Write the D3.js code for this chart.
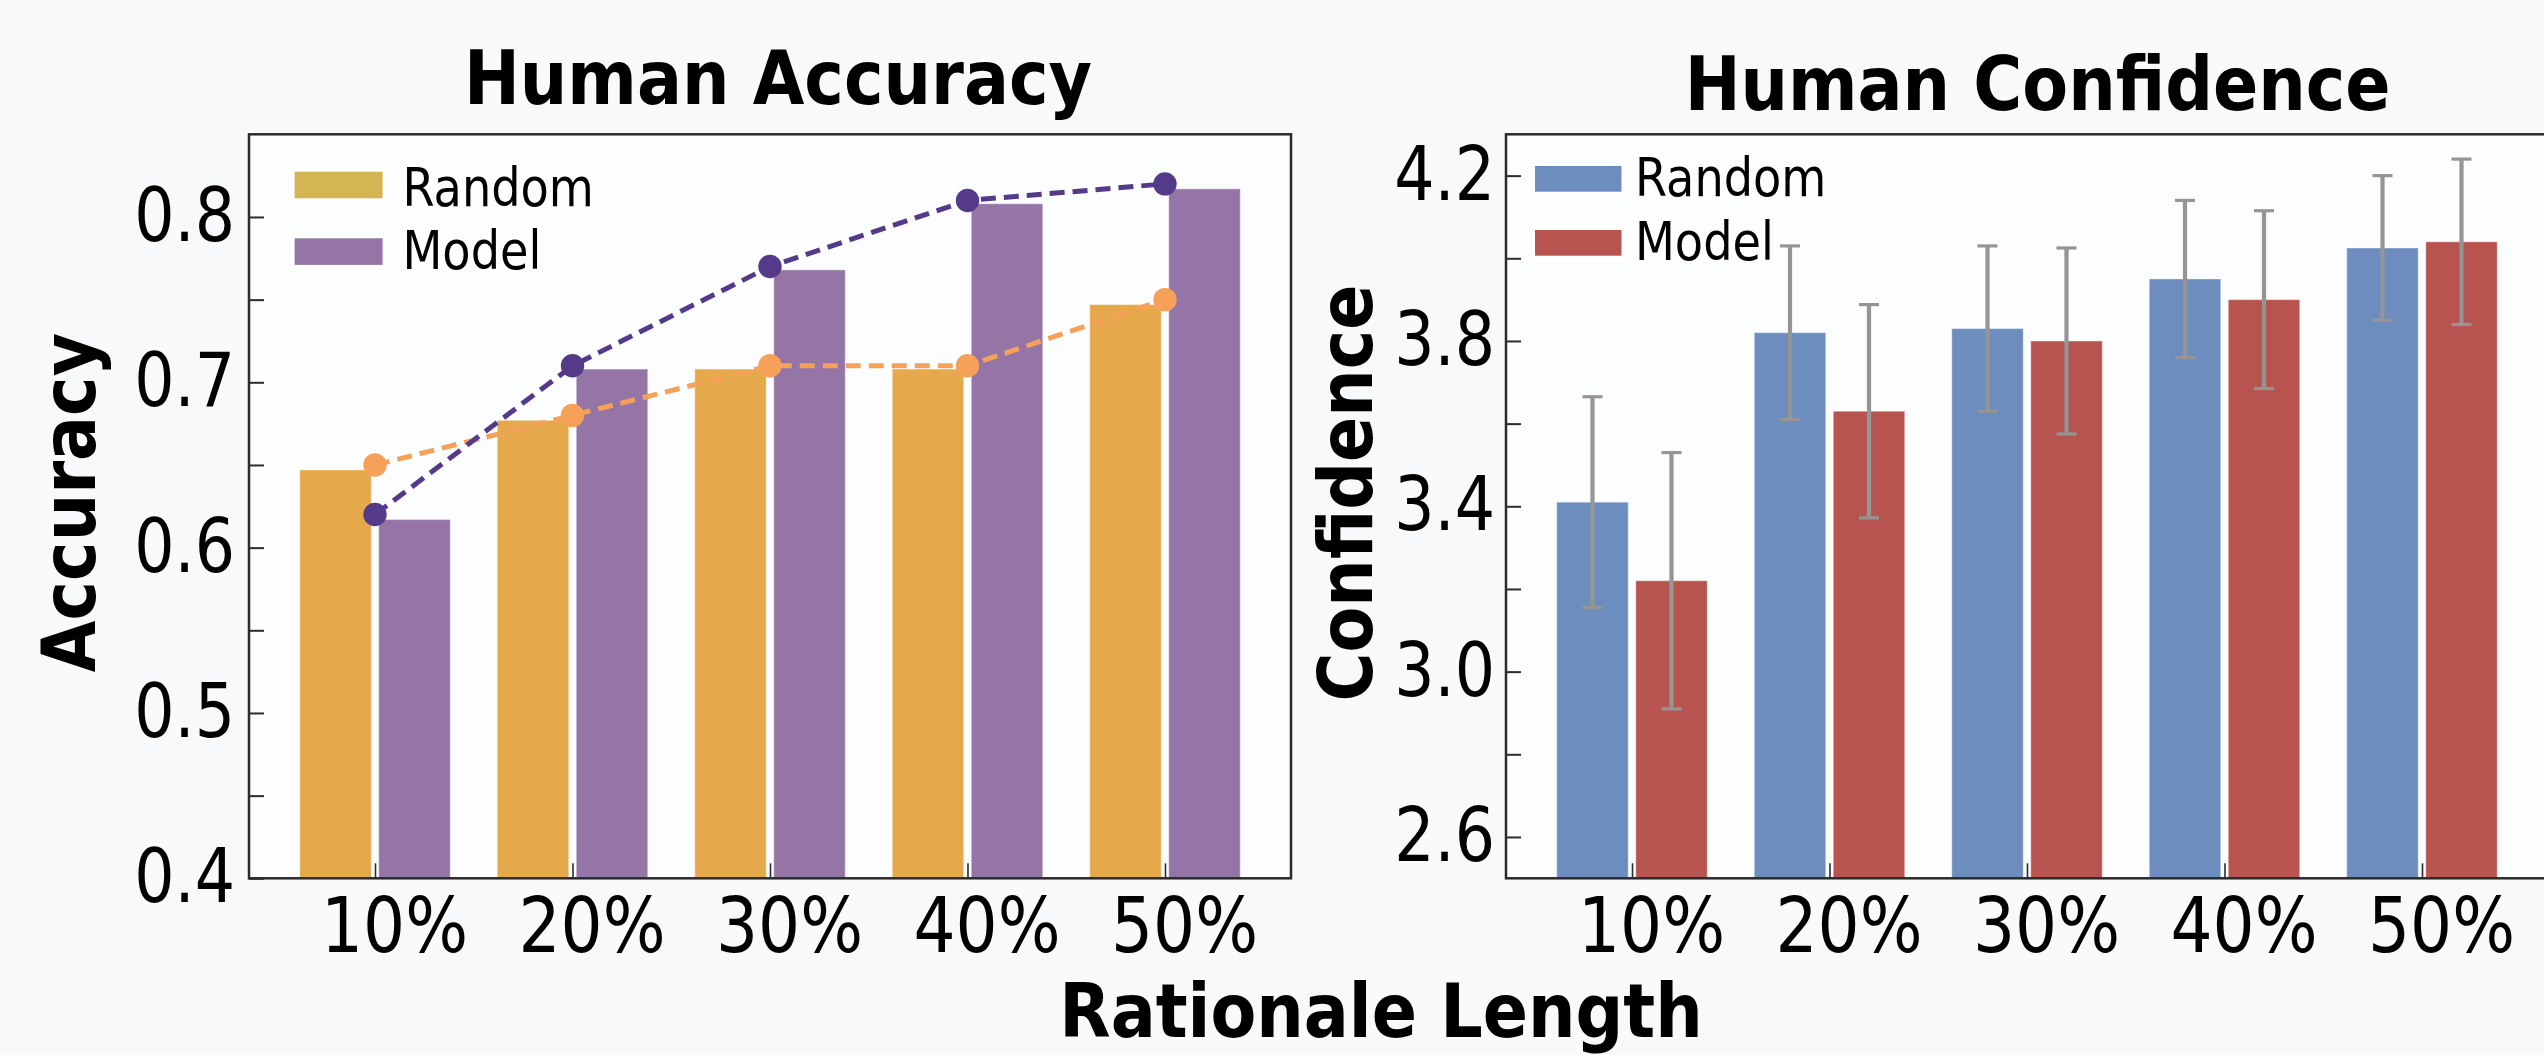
<!DOCTYPE html>
<html>
<head>
<meta charset="utf-8">
<script src="https://cdn.jsdelivr.net/npm/d3@7"></script>
<style>
  html, body { margin: 0; padding: 0; background: #F8F9FB; }
  svg { display: block; }
  text { font-family: "DejaVu Sans", sans-serif; fill: #000; }
</style>
</head>
<body>
<svg id="chart" width="2544" height="1055"></svg>
<script>
// ---------------- data ----------------
const categories = ["10%", "20%", "30%", "40%", "50%"];
const seriesNames = ["Random", "Model"];

// Human Accuracy (left): bars and dashed lines
const accRandomBars = [0.647, 0.677, 0.708, 0.708, 0.747];
const accModelBars  = [0.617, 0.708, 0.768, 0.808, 0.817];
const accRandomLine = [0.65, 0.68, 0.71, 0.71, 0.75];
const accModelLine  = [0.62, 0.71, 0.77, 0.81, 0.82];
const accMajorTicks = [0.4, 0.5, 0.6, 0.7, 0.8];
const accMinorTicks = [0.45, 0.55, 0.65, 0.75];

// Human Confidence (right): bars with error bars
const confRandom    = [3.41, 3.82, 3.83, 3.95, 4.025];
const confModel     = [3.22, 3.63, 3.80, 3.90, 4.04];
const confRandomErr = [0.255, 0.21, 0.20, 0.19, 0.175];
const confModelErr  = [0.31, 0.258, 0.225, 0.215, 0.20];
const confMajorTicks = [2.6, 3.0, 3.4, 3.8, 4.2];
const confMinorTicks = [2.8, 3.2, 3.6, 4.0];

// ---------------- styles ----------------
const accColors = { bar: ["#E5A84B", "#9575A6"], legend: ["#D4B554", "#9575A6"], line: ["#F5A15A", "#553A8A"] };
const confColors = { bar: ["#6C8DBE", "#B85450"], legend: ["#6C8DBE", "#B85450"] };
const errColor = "#959595";
const axisColor = "#2b2b2b";

const svg = d3.select("#chart");
svg.append("rect").attr("width", 2544).attr("height", 1055).attr("fill", "#F8F9FB");

const frameTop = 134.3, frameBottom = 878.3, frameW = 1042;
const tickFont = 75.5, tickSX = 0.84, xTickSX = 0.87;
const boldFont = 75, boldSX = 0.89;
const legFont = 54, legSX = 0.856;
const barW = 71.5, barGap = 7.5;

function makePanel(opts) {
  const g = svg.append("g");
  const x0 = opts.frameX;
  const x = d3.scalePoint().domain(categories).range([x0, x0 + frameW]).padding(0.638);
  const y = d3.scaleLinear().domain(opts.domain).range([frameBottom, frameTop]);

  // plot area
  g.append("rect").attr("x", x0).attr("y", frameTop).attr("width", frameW)
    .attr("height", frameBottom - frameTop).attr("fill", "#FCFDFE");

  // bars
  const seriesVals = opts.bars;
  seriesVals.forEach((vals, si) => {
    g.append("g").selectAll("rect").data(vals).join("rect")
      .attr("x", (d, i) => si === 0 ? x(categories[i]) - barGap / 2 - barW : x(categories[i]) + barGap / 2)
      .attr("y", d => y(d))
      .attr("width", barW)
      .attr("height", d => frameBottom - y(d))
      .attr("fill", opts.colors.bar[si])
      .attr("stroke", "#ffffff").attr("stroke-opacity", 0.35).attr("stroke-width", 1.2);
  });

  // error bars
  if (opts.errors) {
    opts.errors.forEach((errs, si) => {
      const vals = seriesVals[si];
      const cx = i => si === 0 ? x(categories[i]) - barGap / 2 - barW / 2 : x(categories[i]) + barGap / 2 + barW / 2;
      const eg = g.append("g").attr("stroke", errColor);
      eg.selectAll("line.v").data(errs).join("line").attr("class", "v")
        .attr("x1", (d, i) => cx(i)).attr("x2", (d, i) => cx(i))
        .attr("y1", (d, i) => y(vals[i] + d)).attr("y2", (d, i) => y(vals[i] - d))
        .attr("stroke-width", 4.2);
      [1, -1].forEach(sgn => {
        eg.selectAll("line.c" + (sgn > 0 ? "t" : "b")).data(errs).join("line").attr("class", "c" + (sgn > 0 ? "t" : "b"))
          .attr("x1", (d, i) => cx(i) - 10).attr("x2", (d, i) => cx(i) + 10)
          .attr("y1", (d, i) => y(vals[i] + sgn * d)).attr("y2", (d, i) => y(vals[i] + sgn * d))
          .attr("stroke-width", 3.2);
      });
    });
  }

  // dashed lines with markers
  if (opts.lines) {
    opts.lines.forEach((vals, si) => {
      const line = d3.line().x((d, i) => x(categories[i])).y(d => y(d));
      g.append("path").datum(vals).attr("d", line).attr("fill", "none")
        .attr("stroke", opts.colors.line[si]).attr("stroke-width", 5)
        .attr("stroke-dasharray", "15,8");
      g.append("g").selectAll("circle").data(vals).join("circle")
        .attr("cx", (d, i) => x(categories[i])).attr("cy", d => y(d)).attr("r", 11.7)
        .attr("fill", opts.colors.line[si]);
    });
  }

  // y axis: major ticks
  const yAxis = g.append("g").attr("transform", `translate(${x0},0)`)
    .call(d3.axisLeft(y).tickValues(opts.major).tickSize(-15).tickFormat(d3.format(".1f")));
  yAxis.select(".domain").remove();
  yAxis.selectAll(".tick line").attr("stroke", axisColor).attr("stroke-width", 2);
  yAxis.selectAll(".tick text")
    .attr("x", 0).attr("dy", null).attr("y", 0)
    .attr("transform", `translate(${opts.yLabelPad},23.5) scale(${tickSX},1)`)
    .style("font-size", tickFont + "px").style("font-family", "DejaVu Sans").attr("fill", "#000");
  // minor ticks
  const yMinor = g.append("g").attr("transform", `translate(${x0},0)`)
    .call(d3.axisLeft(y).tickValues(opts.minor).tickSize(-15).tickFormat(""));
  yMinor.select(".domain").remove();
  yMinor.selectAll(".tick line").attr("stroke", axisColor).attr("stroke-width", 2);

  // x axis
  const xAxis = g.append("g").attr("transform", `translate(0,${frameBottom})`)
    .call(d3.axisBottom(x).tickSize(-15));
  xAxis.select(".domain").remove();
  xAxis.selectAll(".tick line").attr("stroke", axisColor).attr("stroke-width", 1.6);
  xAxis.selectAll(".tick text")
    .attr("y", 0).attr("dy", null)
    .attr("transform", `translate(19,73.7) scale(${xTickSX},1)`)
    .style("font-size", (tickFont + 0.5) + "px").style("font-family", "DejaVu Sans").attr("fill", "#000");

  // frame
  g.append("rect").attr("x", x0).attr("y", frameTop).attr("width", frameW)
    .attr("height", frameBottom - frameTop).attr("fill", "none")
    .attr("stroke", axisColor).attr("stroke-width", 2.5);

  // title
  g.append("text").attr("transform", `translate(${opts.titleX},${opts.titleY}) scale(${boldSX},1)`)
    .attr("text-anchor", "middle").style("font-size", boldFont + "px").style("font-weight", "bold")
    .text(opts.title);

  // y label
  g.append("text").attr("transform", `translate(${opts.yTitleX},${opts.yTitleY}) rotate(-90) scale(${boldSX},1)`)
    .attr("text-anchor", "middle").style("font-size", boldFont + "px").style("font-weight", "bold")
    .text(opts.yTitle);

  // legend
  const lg = g.append("g");
  seriesNames.forEach((name, si) => {
    const ly = opts.legend.y[si];
    lg.append("rect").attr("x", opts.legend.x - 5).attr("y", ly - 5)
      .attr("width", opts.legend.w + 10).attr("height", opts.legend.h + 10).attr("fill", "#ffffff");
    lg.append("rect").attr("x", opts.legend.x).attr("y", ly)
      .attr("width", opts.legend.w).attr("height", opts.legend.h).attr("fill", opts.colors.legend[si]);
    lg.append("text").attr("transform", `translate(${opts.legend.tx},${opts.legend.ty[si]}) scale(${legSX},1)`)
      .style("font-size", legFont + "px").text(name);
  });
}

makePanel({
  frameX: 249,
  domain: [0.4, 0.85],
  major: accMajorTicks, minor: accMinorTicks,
  bars: [accRandomBars, accModelBars],
  lines: [accRandomLine, accModelLine],
  colors: accColors,
  yLabelPad: -14,
  title: "Human Accuracy", titleX: 778, titleY: 104,
  yTitle: "Accuracy", yTitleX: 95, yTitleY: 502.5,
  legend: { x: 294.6, w: 88, h: 26.6, y: [171.7, 238.3], tx: 402.5, ty: [206, 269.3] }
});

makePanel({
  frameX: 1506,
  domain: [2.5, 4.3],
  major: confMajorTicks, minor: confMinorTicks,
  bars: [confRandom, confModel],
  errors: [confRandomErr, confModelErr],
  colors: confColors,
  yLabelPad: -11,
  title: "Human Confidence", titleX: 2037.6, titleY: 110,
  yTitle: "Confidence", yTitleX: 1372, yTitleY: 493,
  legend: { x: 1535, w: 86.5, h: 25.7, y: [166, 230], tx: 1635, ty: [195.7, 260] }
});

// shared x-axis title
svg.append("text").attr("transform", `translate(1381,1037) scale(${boldSX},1)`)
  .attr("text-anchor", "middle").style("font-size", boldFont + "px").style("font-weight", "bold")
  .text("Rationale Length");
</script>
</body>
</html>
